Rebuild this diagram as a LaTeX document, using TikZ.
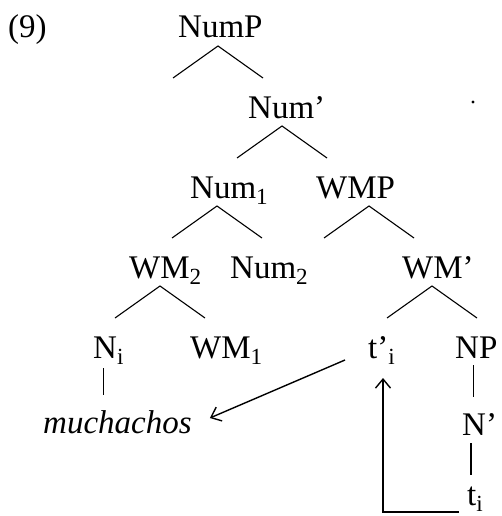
\documentclass[tikz,border=0pt]{standalone}
\usepackage{fontspec}
\setmainfont{Liberation Serif}
\usetikzlibrary{arrows.meta,positioning,calc}

\begin{document}
\begin{tikzpicture}[x=1pt,y=-1pt,
    lbl/.style={anchor=base west, inner sep=0pt, font=\fontsize{33}{39}\selectfont},
    leg/.style={line width=1.1pt},
    unary/.style={line width=0.8pt},
    mv/.style={line width=1.4pt, -{Straight Barb[length=9pt,width=15pt,line width=1.4pt]}}]
  \useasboundingbox (0,0) rectangle (501,516);
  % example number
  \node[lbl] (exnum) at (8,38) {(9)};
  % the labels, row by row
  \foreach \n/\x/\y/\t in {numP/178/38/{NumP},
      numbar/248/118/{Num’},
      numone/190/198/{Num\textsubscript{1}}, wmp/316/198/{WMP},
      wmtwo/129/278/{WM\textsubscript{2}}, numtwo/230/278/{Num\textsubscript{2}}, wmbar/402/278/{WM’},
      ni/93/358/{N\textsubscript{i}}, wmone/190/358/{WM\textsubscript{1}}, tpi/368/358/{t’\textsubscript{i}}, np/455/358/{NP},
      nbar/462/435/{N’},
      ti/467/505/{t\textsubscript{i}}}
    \node[lbl] (\n) at (\x,\y) {\t};
  \node[lbl, font=\fontsize{33}{39}\selectfont\itshape] (much) at (43,433) {muchachos};
  % stray speck
  \node[circle, fill, inner sep=1.2pt] (speck) at (473,102) {};
  % branching legs under each parent
  \foreach \p/\dx in {numP/40, numbar/34, numone/27, wmp/53, wmtwo/31, wmbar/30}
    \draw[leg] ([shift={(\dx,8)}]\p.base west) +(-45,32) -- +(0,0) -- +(45,32);
  % non-branching lines
  \draw[unary] ([shift={(10,10)}]ni.base west) -- ([shift={(60,-38)}]much.base west);
  \draw[unary] ([shift={(18,7)}]np.base west) -- ([shift={(11,-38)}]nbar.base west);
  \draw[leg, line width=1.3pt] ([shift={(9,8)}]nbar.base west) -- ([shift={(4,-30)}]ti.base west);
  % movement arrows
  \draw[mv] ([shift={(-23,2)}]tpi.base west) -- ([shift={(18,-15)}]much.base east);
  \draw[mv] ([shift={(-8,7)}]ti.base west) -| ([shift={(15,20)}]tpi.base west);
\end{tikzpicture}
\end{document}
